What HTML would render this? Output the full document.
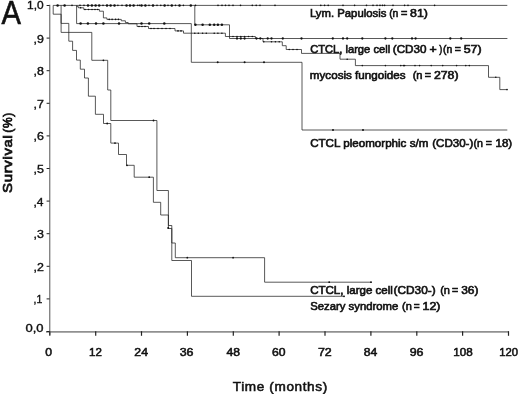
<!DOCTYPE html>
<html lang="en">
<head>
<meta charset="utf-8">
<title>Survival curves</title>
<style>
html,body{margin:0;padding:0;background:#fff;}
body{width:520px;height:394px;overflow:hidden;}
svg{display:block;}
</style>
</head>
<body>
<svg width="520" height="394" viewBox="0 0 520 394">
<rect width="520" height="394" fill="#fff"/>
<g fill="none"><path d="M49.75 4.8 V334.8" stroke="#707070" stroke-width="1.2"/><path d="M46 331.9 H508.8" stroke="#909090" stroke-width="1.9"/></g>
<g stroke="#222" stroke-width="1" fill="none">
<path d="M46.6 331.5 H49.6"/>
<path d="M46.6 298.9 H49.6"/>
<path d="M46.6 266.3 H49.6"/>
<path d="M46.6 233.7 H49.6"/>
<path d="M46.6 201.1 H49.6"/>
<path d="M46.6 168.5 H49.6"/>
<path d="M46.6 135.9 H49.6"/>
<path d="M46.6 103.3 H49.6"/>
<path d="M46.6 70.7 H49.6"/>
<path d="M46.6 38.1 H49.6"/>
<path d="M46.6 5.5 H49.6"/>
<path d="M49.8 331.2 V335.8" stroke-width="1.2"/>
<path d="M95.7 331.2 V335.8" stroke-width="1.2"/>
<path d="M141.5 331.2 V335.8" stroke-width="1.2"/>
<path d="M187.4 331.2 V335.8" stroke-width="1.2"/>
<path d="M233.3 331.2 V335.8" stroke-width="1.2"/>
<path d="M279.1 331.2 V335.8" stroke-width="1.2"/>
<path d="M325.0 331.2 V335.8" stroke-width="1.2"/>
<path d="M370.9 331.2 V335.8" stroke-width="1.2"/>
<path d="M416.8 331.2 V335.8" stroke-width="1.2"/>
<path d="M462.6 331.2 V335.8" stroke-width="1.2"/>
<path d="M508.5 331.2 V335.8" stroke-width="1.2"/>
</g>
<g stroke="#222" stroke-width="0.75" fill="none" stroke-linejoin="miter">
<path d="M53.2 5.4 L507.3 5.4"/>
<path d="M61.1 5.4 L61.1 5.4 L61.1 32.4 L91.8 32.4 L91.8 60.3 L107.7 60.3 L107.7 90.0 L110.8 90.0 L110.8 120.5 L156.9 120.5 L156.9 190.5 L168.4 190.5 L168.4 225.5 L171.8 225.5 L171.8 260.5 L191.5 260.5 L191.5 296.3 L344.6 296.3"/>
<path d="M53.2 5.4 L53.2 5.4 L53.2 14.2 L61.1 14.2 L61.1 23.4 L68.8 23.4 L68.8 41.2 L72.6 41.2 L72.6 50.4 L76.5 50.4 L76.5 60.1 L80.3 60.1 L80.3 69.2 L84.5 69.2 L84.5 78.0 L88.4 78.0 L88.4 96.2 L95.4 96.2 L95.4 114.3 L103.5 114.3 L103.5 123.5 L110.8 123.5 L110.8 143.1 L118.5 143.1 L118.5 154.5 L126.5 154.5 L126.5 165.3 L134.2 165.3 L134.2 177.2 L153.4 177.2 L153.4 202.3 L160.7 202.3 L160.7 215.0 L168.4 215.0 L168.4 228.5 L171.8 228.5 L171.8 243.0 L175.3 243.0 L175.3 257.7 L264.6 257.7 L264.6 282.2 L371.5 282.2"/>
<path d="M76.6 5.4 L76.6 5.4 L76.6 23.6 L191.3 23.6 L191.3 62.3 L302.0 62.3 L302.0 130.0 L507.3 130.0"/>
<path d="M194.8 5.4 L194.8 5.4 L194.8 24.8 L229.5 24.8 L229.5 38.5 L507.4 38.5"/>
<path d="M76.9 5.4 L76.9 6.7 L78.5 6.7 L78.5 7.8 L83.8 7.8 L83.8 9.5 L99.4 9.5 L99.4 11.2 L103.4 11.2 L103.4 17.9 L106.9 17.9 L106.9 19.4 L121.3 19.4 L121.3 20.8 L125.4 20.8 L125.4 22.5 L128.2 22.5 L128.2 23.8 L137.0 23.8 L137.0 26.5 L148.5 26.5 L148.5 28.5 L175.0 28.5 L175.0 30.9 L183.5 30.9 L183.5 33.2 L225.4 33.2 L225.4 36.5 L255.4 36.5 L255.4 38.5 L263.0 38.5 L263.0 41.8 L282.3 41.8 L282.3 45.7 L286.2 45.7 L286.2 49.5 L301.5 49.5 L301.5 53.4 L340.0 53.4 L340.0 59.2 L355.4 59.2 L355.4 65.6 L488.5 65.6 L488.5 77.3 L499.8 77.3 L499.8 89.6 L507.4 89.6"/>
</g>
<g fill="#111">
<circle cx="57.6" cy="5.4" r="1.25"/>
<circle cx="64.6" cy="5.4" r="1.25"/>
<circle cx="88.0" cy="5.4" r="1.25"/>
<circle cx="91.9" cy="5.4" r="1.25"/>
<circle cx="95.6" cy="5.4" r="1.25"/>
<circle cx="99.2" cy="5.4" r="1.25"/>
<circle cx="107.0" cy="5.4" r="1.25"/>
<circle cx="110.6" cy="5.4" r="1.25"/>
<circle cx="114.5" cy="5.4" r="1.25"/>
<circle cx="126.5" cy="5.4" r="1.25"/>
<circle cx="130.0" cy="5.4" r="1.25"/>
<circle cx="133.6" cy="5.4" r="1.25"/>
<circle cx="141.5" cy="5.4" r="1.25"/>
<circle cx="145.4" cy="5.4" r="1.25"/>
<circle cx="153.0" cy="5.4" r="1.25"/>
<circle cx="164.6" cy="5.4" r="1.25"/>
<circle cx="171.8" cy="5.4" r="1.25"/>
<circle cx="179.5" cy="5.4" r="1.25"/>
<circle cx="190.8" cy="5.4" r="1.25"/>
<circle cx="72.0" cy="5.4" r="0.80"/>
<circle cx="80.0" cy="5.4" r="0.80"/>
<circle cx="84.0" cy="5.4" r="0.80"/>
<circle cx="103.0" cy="5.4" r="0.80"/>
<circle cx="117.9" cy="5.4" r="0.80"/>
<circle cx="122.0" cy="5.4" r="0.80"/>
<circle cx="137.7" cy="5.4" r="0.80"/>
<circle cx="139.5" cy="5.4" r="0.80"/>
<circle cx="149.0" cy="5.4" r="0.80"/>
<circle cx="157.0" cy="5.4" r="0.80"/>
<circle cx="160.8" cy="5.4" r="0.80"/>
<circle cx="168.0" cy="5.4" r="0.80"/>
<circle cx="175.5" cy="5.4" r="0.80"/>
<circle cx="183.4" cy="5.4" r="0.80"/>
<circle cx="195.5" cy="5.4" r="0.80"/>
<circle cx="218.0" cy="5.4" r="0.80"/>
<circle cx="222.0" cy="5.4" r="0.80"/>
<circle cx="225.5" cy="5.4" r="0.80"/>
<circle cx="229.0" cy="5.4" r="0.80"/>
<circle cx="233.0" cy="5.4" r="0.80"/>
<circle cx="240.5" cy="5.4" r="0.80"/>
<circle cx="252.3" cy="5.4" r="0.80"/>
<circle cx="256.2" cy="5.4" r="0.80"/>
<circle cx="260.0" cy="5.4" r="0.80"/>
<circle cx="275.0" cy="5.4" r="0.80"/>
<circle cx="320.8" cy="5.4" r="0.80"/>
<circle cx="324.6" cy="5.4" r="0.80"/>
<circle cx="328.2" cy="5.4" r="0.80"/>
<circle cx="343.0" cy="5.4" r="0.80"/>
<circle cx="354.6" cy="5.4" r="0.80"/>
<circle cx="366.5" cy="5.4" r="0.80"/>
<circle cx="373.0" cy="5.4" r="0.80"/>
<circle cx="377.0" cy="5.4" r="0.80"/>
<circle cx="380.0" cy="5.4" r="0.80"/>
<circle cx="382.5" cy="5.4" r="0.80"/>
<circle cx="384.6" cy="5.4" r="0.80"/>
<circle cx="393.0" cy="5.4" r="0.80"/>
<circle cx="404.6" cy="5.4" r="0.80"/>
<circle cx="408.0" cy="5.4" r="0.80"/>
<circle cx="434.6" cy="5.4" r="0.80"/>
<circle cx="80.6" cy="23.6" r="1.25"/>
<circle cx="87.9" cy="23.6" r="1.25"/>
<circle cx="96.0" cy="23.6" r="1.25"/>
<circle cx="103.4" cy="23.6" r="1.25"/>
<circle cx="119.0" cy="23.6" r="1.25"/>
<circle cx="141.5" cy="23.6" r="1.25"/>
<circle cx="149.2" cy="23.6" r="1.25"/>
<circle cx="164.3" cy="23.6" r="1.25"/>
<circle cx="217.7" cy="62.3" r="1.00"/>
<circle cx="244.6" cy="62.3" r="1.00"/>
<circle cx="264.0" cy="62.3" r="1.00"/>
<circle cx="333.0" cy="130.0" r="1.00"/>
<circle cx="363.0" cy="130.0" r="1.00"/>
<circle cx="195.4" cy="24.8" r="1.25"/>
<circle cx="202.6" cy="24.8" r="1.25"/>
<circle cx="209.8" cy="24.8" r="1.25"/>
<circle cx="214.2" cy="24.8" r="1.25"/>
<circle cx="217.9" cy="24.8" r="1.25"/>
<circle cx="221.9" cy="24.8" r="1.25"/>
<circle cx="237.0" cy="38.5" r="1.15"/>
<circle cx="240.8" cy="38.5" r="1.15"/>
<circle cx="244.6" cy="38.5" r="1.15"/>
<circle cx="256.5" cy="38.5" r="1.15"/>
<circle cx="260.3" cy="38.5" r="1.15"/>
<circle cx="267.7" cy="38.5" r="1.15"/>
<circle cx="271.5" cy="38.5" r="1.15"/>
<circle cx="282.8" cy="38.5" r="1.15"/>
<circle cx="301.5" cy="38.5" r="1.15"/>
<circle cx="332.8" cy="38.5" r="1.15"/>
<circle cx="343.0" cy="38.5" r="1.15"/>
<circle cx="347.2" cy="38.5" r="1.15"/>
<circle cx="362.3" cy="38.5" r="1.15"/>
<circle cx="385.4" cy="38.5" r="1.15"/>
<circle cx="392.3" cy="38.5" r="1.15"/>
<circle cx="412.0" cy="38.5" r="1.15"/>
<circle cx="415.6" cy="38.5" r="1.15"/>
<circle cx="450.3" cy="38.5" r="1.15"/>
<circle cx="461.2" cy="38.5" r="1.15"/>
<circle cx="80.6" cy="7.8" r="0.80"/>
<circle cx="85.0" cy="9.5" r="0.80"/>
<circle cx="88.5" cy="9.5" r="0.80"/>
<circle cx="92.0" cy="9.5" r="0.80"/>
<circle cx="95.0" cy="9.5" r="0.80"/>
<circle cx="97.7" cy="9.5" r="0.80"/>
<circle cx="109.2" cy="19.4" r="0.80"/>
<circle cx="112.1" cy="19.4" r="0.80"/>
<circle cx="115.6" cy="19.4" r="0.80"/>
<circle cx="118.4" cy="19.4" r="0.80"/>
<circle cx="139.0" cy="26.5" r="0.80"/>
<circle cx="142.0" cy="26.5" r="0.80"/>
<circle cx="145.0" cy="26.5" r="0.80"/>
<circle cx="151.0" cy="28.5" r="0.80"/>
<circle cx="154.0" cy="28.5" r="0.80"/>
<circle cx="158.0" cy="28.5" r="0.80"/>
<circle cx="162.0" cy="28.5" r="0.80"/>
<circle cx="166.0" cy="28.5" r="0.80"/>
<circle cx="170.0" cy="28.5" r="0.80"/>
<circle cx="178.0" cy="30.9" r="0.80"/>
<circle cx="181.0" cy="30.9" r="0.80"/>
<circle cx="194.8" cy="33.2" r="0.80"/>
<circle cx="198.3" cy="33.2" r="0.80"/>
<circle cx="202.6" cy="33.2" r="0.80"/>
<circle cx="206.3" cy="33.2" r="0.80"/>
<circle cx="214.2" cy="33.2" r="0.80"/>
<circle cx="217.9" cy="33.2" r="0.80"/>
<circle cx="221.9" cy="33.2" r="0.80"/>
<circle cx="233.0" cy="36.5" r="0.80"/>
<circle cx="237.0" cy="36.5" r="0.80"/>
<circle cx="240.8" cy="36.5" r="0.80"/>
<circle cx="244.6" cy="36.5" r="0.80"/>
<circle cx="248.5" cy="36.5" r="0.80"/>
<circle cx="252.3" cy="36.5" r="0.80"/>
<circle cx="263.8" cy="41.8" r="0.80"/>
<circle cx="271.5" cy="41.8" r="0.80"/>
<circle cx="275.4" cy="41.8" r="0.80"/>
<circle cx="279.2" cy="41.8" r="0.80"/>
<circle cx="289.2" cy="49.5" r="0.80"/>
<circle cx="293.0" cy="49.5" r="0.80"/>
<circle cx="297.0" cy="49.5" r="0.80"/>
<circle cx="347.2" cy="59.2" r="0.80"/>
<circle cx="362.3" cy="65.6" r="0.80"/>
<circle cx="385.4" cy="65.6" r="0.80"/>
<circle cx="400.8" cy="65.6" r="0.80"/>
<circle cx="404.6" cy="65.6" r="0.80"/>
<circle cx="403.5" cy="65.6" r="0.80"/>
<circle cx="415.0" cy="65.6" r="0.80"/>
<circle cx="419.6" cy="65.6" r="0.80"/>
<circle cx="431.2" cy="65.6" r="0.80"/>
<circle cx="442.7" cy="65.6" r="0.80"/>
<circle cx="456.6" cy="65.6" r="0.80"/>
<circle cx="465.8" cy="65.6" r="0.80"/>
<circle cx="469.3" cy="65.6" r="0.80"/>
<circle cx="495.8" cy="77.3" r="0.80"/>
<circle cx="507.0" cy="89.6" r="0.80"/>
<circle cx="103.4" cy="60.3" r="0.90"/>
<circle cx="153.5" cy="120.5" r="0.90"/>
<circle cx="344.0" cy="296.3" r="0.90"/>
<circle cx="107.2" cy="123.5" r="0.90"/>
<circle cx="115.0" cy="143.1" r="0.90"/>
<circle cx="127.0" cy="165.3" r="0.90"/>
<circle cx="149.2" cy="177.2" r="0.90"/>
<circle cx="168.2" cy="228.0" r="1.00"/>
<circle cx="187.3" cy="257.7" r="0.90"/>
<circle cx="233.1" cy="257.7" r="0.90"/>
<circle cx="329.2" cy="282.2" r="0.90"/>
<circle cx="371.0" cy="282.2" r="0.90"/>
</g>
<g font-family="'Liberation Sans', Arial, Helvetica, sans-serif" fill="#111" stroke="#111">
<text transform="translate(1.42 23.90) scale(0.884 1)" font-size="33" font-weight="normal" stroke-width="0.6">A</text>
<text transform="translate(27.10 9.20) scale(1.192 1)" font-size="10.0" font-weight="normal" stroke-width="0.35">1,0</text>
<text transform="translate(25.42 331.60) scale(1.304 1)" font-size="10.0" font-weight="normal" stroke-width="0.35">0,0</text>
<text transform="translate(33.61 303.30) scale(1.048 1)" font-size="10.0" font-weight="normal" stroke-width="0.35">,1</text>
<text transform="translate(33.47 270.70) scale(1.241 1)" font-size="10.0" font-weight="normal" stroke-width="0.35">,2</text>
<text transform="translate(33.47 238.10) scale(1.241 1)" font-size="10.0" font-weight="normal" stroke-width="0.35">,3</text>
<text transform="translate(33.50 205.50) scale(1.200 1)" font-size="10.0" font-weight="normal" stroke-width="0.35">,4</text>
<text transform="translate(33.47 172.90) scale(1.241 1)" font-size="10.0" font-weight="normal" stroke-width="0.35">,5</text>
<text transform="translate(33.47 140.30) scale(1.241 1)" font-size="10.0" font-weight="normal" stroke-width="0.35">,6</text>
<text transform="translate(33.47 107.70) scale(1.241 1)" font-size="10.0" font-weight="normal" stroke-width="0.35">,7</text>
<text transform="translate(33.47 75.10) scale(1.241 1)" font-size="10.0" font-weight="normal" stroke-width="0.35">,8</text>
<text transform="translate(33.47 42.50) scale(1.241 1)" font-size="10.0" font-weight="normal" stroke-width="0.35">,9</text>
<text transform="translate(45.23 355.60) scale(1.078 1)" font-size="11.3" font-weight="normal" stroke-width="0.55">0</text>
<text transform="translate(88.99 355.60) scale(1.021 1)" font-size="11.3" font-weight="normal" stroke-width="0.55">12</text>
<text transform="translate(134.33 355.60) scale(1.086 1)" font-size="11.3" font-weight="normal" stroke-width="0.55">24</text>
<text transform="translate(179.72 355.60) scale(1.100 1)" font-size="11.3" font-weight="normal" stroke-width="0.55">36</text>
<text transform="translate(226.48 355.60) scale(1.078 1)" font-size="11.3" font-weight="normal" stroke-width="0.55">48</text>
<text transform="translate(272.08 355.60) scale(1.078 1)" font-size="11.3" font-weight="normal" stroke-width="0.55">60</text>
<text transform="translate(317.94 355.60) scale(1.100 1)" font-size="11.3" font-weight="normal" stroke-width="0.55">72</text>
<text transform="translate(363.82 355.60) scale(1.078 1)" font-size="11.3" font-weight="normal" stroke-width="0.55">84</text>
<text transform="translate(409.69 355.60) scale(1.100 1)" font-size="11.3" font-weight="normal" stroke-width="0.55">96</text>
<text transform="translate(453.18 355.60) scale(1.033 1)" font-size="11.3" font-weight="normal" stroke-width="0.55">108</text>
<text transform="translate(499.30 355.60) scale(0.997 1)" font-size="11.3" font-weight="normal" stroke-width="0.55">120</text>
<text transform="translate(309.97 17.00) scale(1.070 1)" font-size="10.6" font-weight="normal" stroke-width="0.6">Lym. Papulosis</text>
<text transform="translate(389.15 17.00) scale(0.983 1)" font-size="10.6" font-weight="normal" stroke-width="0.6">(n</text>
<text transform="translate(401.04 17.00) scale(1.026 1)" font-size="10.6" font-weight="normal" stroke-width="0.6">=</text>
<text transform="translate(410.11 17.00) scale(1.166 1)" font-size="10.6" font-weight="normal" stroke-width="0.6">81)</text>
<text transform="translate(310.14 52.60) scale(1.054 1)" font-size="10.6" font-weight="normal" stroke-width="0.6">CTCL, large cell</text>
<text transform="translate(392.83 52.60) scale(1.098 1)" font-size="10.6" font-weight="normal" stroke-width="0.6">(CD30</text>
<text transform="translate(429.51 52.60) scale(1.165 1)" font-size="10.6" font-weight="normal" stroke-width="0.6">+</text>
<text transform="translate(439.23 52.60) scale(0.853 1)" font-size="10.6" font-weight="normal" stroke-width="0.6">)</text>
<text transform="translate(443.05 52.60) scale(0.983 1)" font-size="10.6" font-weight="normal" stroke-width="0.6">(n</text>
<text transform="translate(454.75 52.60) scale(0.991 1)" font-size="10.6" font-weight="normal" stroke-width="0.6">=</text>
<text transform="translate(463.70 52.60) scale(1.173 1)" font-size="10.6" font-weight="normal" stroke-width="0.6">57)</text>
<text transform="translate(309.85 78.90) scale(1.098 1)" font-size="10.6" font-weight="normal" stroke-width="0.6">mycosis fungoides</text>
<text transform="translate(412.64 78.90) scale(1.051 1)" font-size="10.6" font-weight="normal" stroke-width="0.6">(n</text>
<text transform="translate(424.75 78.90) scale(1.009 1)" font-size="10.6" font-weight="normal" stroke-width="0.6">=</text>
<text transform="translate(433.91 78.90) scale(1.161 1)" font-size="10.6" font-weight="normal" stroke-width="0.6">278)</text>
<text transform="translate(310.13 147.40) scale(1.095 1)" font-size="10.6" font-weight="normal" stroke-width="0.6">CTCL pleomorphic s/m</text>
<text transform="translate(432.23 147.40) scale(1.092 1)" font-size="10.6" font-weight="normal" stroke-width="0.6">(CD30-)</text>
<text transform="translate(473.55 147.40) scale(1.006 1)" font-size="10.6" font-weight="normal" stroke-width="0.6">(n</text>
<text transform="translate(485.75 147.40) scale(0.991 1)" font-size="10.6" font-weight="normal" stroke-width="0.6">=</text>
<text transform="translate(495.46 147.40) scale(1.090 1)" font-size="10.6" font-weight="normal" stroke-width="0.6">18)</text>
<text transform="translate(310.13 293.90) scale(1.091 1)" font-size="10.6" font-weight="normal" stroke-width="0.6">CTCL, large cell</text>
<text transform="translate(393.62 293.90) scale(1.114 1)" font-size="10.6" font-weight="normal" stroke-width="0.6">(CD30-)</text>
<text transform="translate(440.14 293.90) scale(1.040 1)" font-size="10.6" font-weight="normal" stroke-width="0.6">(n</text>
<text transform="translate(452.05 293.90) scale(0.991 1)" font-size="10.6" font-weight="normal" stroke-width="0.6">=</text>
<text transform="translate(461.20 293.90) scale(1.127 1)" font-size="10.6" font-weight="normal" stroke-width="0.6">36)</text>
<text transform="translate(310.13 309.60) scale(1.070 1)" font-size="10.6" font-weight="normal" stroke-width="0.6">Sezary syndrome</text>
<text transform="translate(402.04 309.60) scale(1.040 1)" font-size="10.6" font-weight="normal" stroke-width="0.6">(n</text>
<text transform="translate(413.76 309.60) scale(0.957 1)" font-size="10.6" font-weight="normal" stroke-width="0.6">=</text>
<text transform="translate(422.52 309.60) scale(1.166 1)" font-size="10.6" font-weight="normal" stroke-width="0.6">12)</text>
<text transform="translate(232.80 390.50) scale(1.052 1)" font-size="12.9" font-weight="normal" stroke-width="0.55" letter-spacing="0.6">Time (months)</text>
<text transform="translate(12.10 192.89) rotate(-90) scale(1.155 1)" font-size="12.9" font-weight="normal" stroke-width="0.75" letter-spacing="0.6">Survival</text>
<text transform="translate(12.20 132.65) rotate(-90) scale(0.894 1)" font-size="13.5" font-weight="normal" stroke-width="0.75" letter-spacing="0.6">(%)</text>
</g>
</svg>
</body>
</html>
